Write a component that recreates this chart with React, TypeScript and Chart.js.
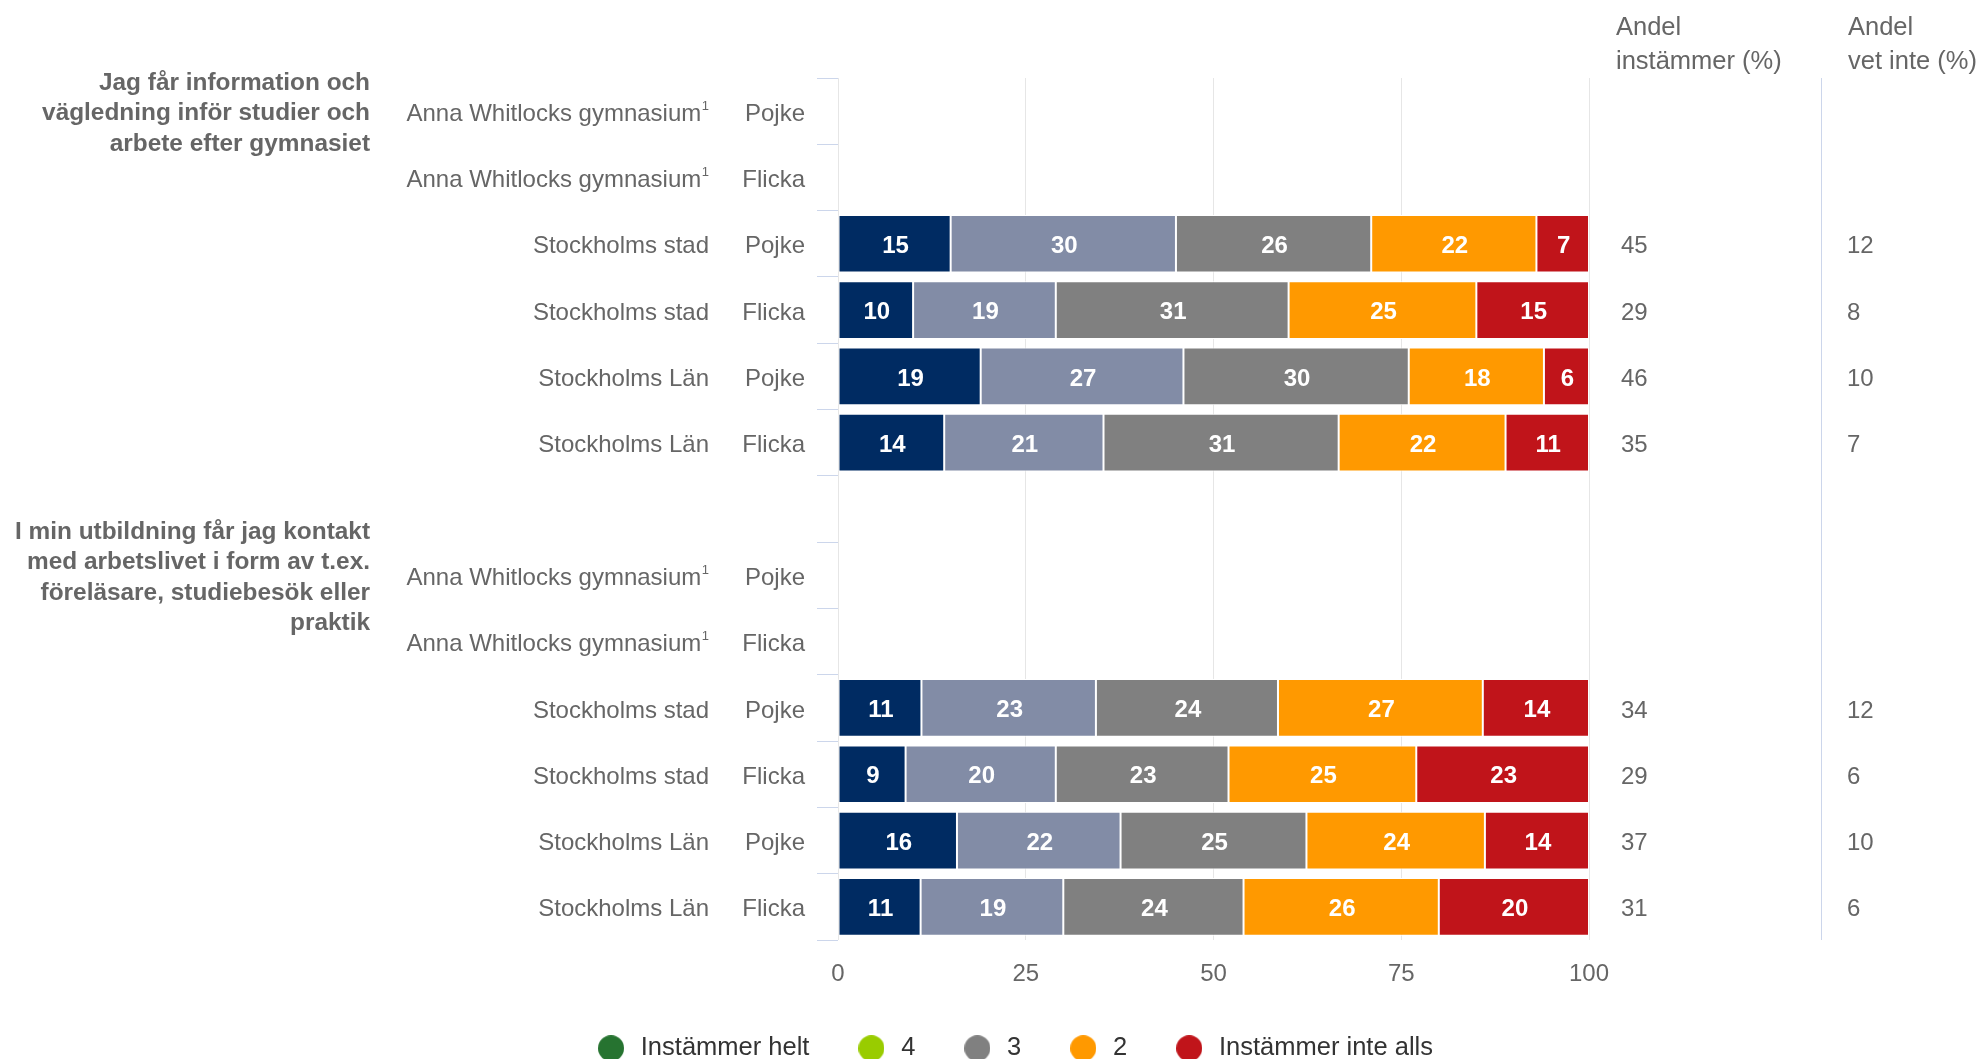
import React, { useEffect, useRef } from 'react';
import { Chart, registerables } from 'chart.js';

Chart.register(...registerables);

// ---- data ----
const places = [
  'Anna Whitlocks gymnasium', 'Anna Whitlocks gymnasium', 'Stockholms stad', 'Stockholms stad', 'Stockholms Län', 'Stockholms Län',
  '',
  'Anna Whitlocks gymnasium', 'Anna Whitlocks gymnasium', 'Stockholms stad', 'Stockholms stad', 'Stockholms Län', 'Stockholms Län',
];
const placeFootnotes = ['1', '1', '', '', '', '', '', '1', '1', '', '', '', ''];
const genders = ['Pojke', 'Flicka', 'Pojke', 'Flicka', 'Pojke', 'Flicka', '', 'Pojke', 'Flicka', 'Pojke', 'Flicka', 'Pojke', 'Flicka'];

const groupQuestion1 = ['Jag får information och', 'vägledning inför studier och', 'arbete efter gymnasiet'];
const groupQuestion2 = ['I min utbildning får jag kontakt', 'med arbetslivet i form av t.ex.', 'föreläsare, studiebesök eller', 'praktik'];
const groupStartRows = [0, 7];

const seriesNames = ['Instämmer helt', '4', '3', '2', 'Instämmer inte alls'];

const instammerHelt = [null, null, 15, 10, 19, 14, null, null, null, 11, 9, 16, 11];
const fyra = [null, null, 30, 19, 27, 21, null, null, null, 23, 20, 22, 19];
const tre = [null, null, 26, 31, 30, 31, null, null, null, 24, 23, 25, 24];
const tva = [null, null, 22, 25, 18, 22, null, null, null, 27, 25, 24, 26];
const inteAlls = [null, null, 7, 15, 6, 11, null, null, null, 14, 23, 14, 20];

const andelInstammer = [null, null, 45, 29, 46, 35, null, null, null, 34, 29, 37, 31];
const andelVetInte = [null, null, 12, 8, 10, 7, null, null, null, 12, 6, 10, 6];

const headerInstammer = ['Andel', 'instämmer (%)'];
const headerVetInte = ['Andel', 'vet inte (%)'];

const xTickValues = [0, 25, 50, 75, 100];

// ---- styles ----
const barColors = ['#002b62', '#828ca6', '#808080', '#ff9900', '#c0141a'];
const legendColors = ['#267330', '#99cc00', '#808080', '#ff9900', '#c0141a'];
const FONT = '"Liberation Sans", Arial, Helvetica, sans-serif';
const TEXT = '#666666';

const seriesValues: (number | null)[][] = [instammerHelt, fyra, tre, tva, inteAlls];

const W = 1981;
const H = 1071;

function circleImage(color: string) {
  const c = document.createElement('canvas');
  c.width = 26;
  c.height = 26;
  const g = c.getContext('2d')!;
  g.fillStyle = color;
  g.beginPath();
  g.arc(13, 13, 13, 0, Math.PI * 2);
  g.fill();
  return c;
}

const overlayPlugin = {
  id: 'overlay',
  afterDatasetsDraw(chart: any) {
    const ctx: CanvasRenderingContext2D = chart.ctx;
    const ys = chart.scales.y;
    const area = chart.chartArea;
    ctx.save();

    // separator line before "vet inte" column
    ctx.strokeStyle = '#ccd6eb';
    ctx.lineWidth = 1;
    ctx.beginPath();
    ctx.moveTo(area.right + 232.5, area.top);
    ctx.lineTo(area.right + 232.5, area.bottom);
    ctx.stroke();

    // data labels inside bars
    ctx.font = `bold 24px ${FONT}`;
    ctx.fillStyle = '#ffffff';
    ctx.textAlign = 'center';
    ctx.textBaseline = 'middle';
    seriesValues.forEach((vals, di) => {
      const meta = chart.getDatasetMeta(di);
      meta.data.forEach((el: any, j: number) => {
        const v = vals[j];
        if (v == null) return;
        const p = el.getProps(['x', 'base', 'y'], true);
        ctx.fillText(String(v), (p.x + p.base) / 2 + 1, p.y + 2.5);
      });
    });

    // category labels (two columns)
    ctx.fillStyle = TEXT;
    ctx.textAlign = 'right';
    places.forEach((pl, i) => {
      const y = ys.getPixelForValue(i) + 3;
      const placeRight = area.left - 129;
      if (pl) {
        const note = placeFootnotes[i];
        let r = placeRight;
        if (note) {
          ctx.font = `13px ${FONT}`;
          ctx.fillText(note, r, y - 8);
          r -= ctx.measureText(note).width + 0.5;
        }
        ctx.font = `24px ${FONT}`;
        ctx.fillText(pl, r, y);
      }
      ctx.font = `24px ${FONT}`;
      if (genders[i]) ctx.fillText(genders[i], area.left - 33, y);
    });

    // group question labels
    ctx.font = `bold 24.4px ${FONT}`;
    [groupQuestion1, groupQuestion2].forEach((lines, gi) => {
      const cy = ys.getPixelForValue(groupStartRows[gi]);
      const lh = 30.5;
      const start = cy - ((lines.length - 1) * lh) / 2;
      lines.forEach((ln, k) => ctx.fillText(ln, area.left - 468, start + k * lh + 2.5));
    });

    // right columns
    ctx.font = `24px ${FONT}`;
    ctx.textAlign = 'left';
    andelInstammer.forEach((v, i) => {
      if (v == null) return;
      ctx.fillText(String(v), area.right + 32, ys.getPixelForValue(i) + 3);
    });
    andelVetInte.forEach((v, i) => {
      if (v == null) return;
      ctx.fillText(String(v), area.right + 258, ys.getPixelForValue(i) + 3);
    });

    // headers
    ctx.font = `25.5px ${FONT}`;
    headerInstammer.forEach((t, k) => ctx.fillText(t, area.right + 27, 27.5 + k * 34.5));
    headerVetInte.forEach((t, k) => ctx.fillText(t, area.right + 259, 27.5 + k * 34.5));

    ctx.restore();
  },
};

export default function App() {
  const ref = useRef<HTMLCanvasElement>(null);

  useEffect(() => {
    if (!ref.current) return;
    const rowSums = genders.map((_, j) =>
      seriesValues.reduce((s, arr) => s + (arr[j] ?? 0), 0)
    );
    const datasets = seriesValues.map((vals, i) => ({
      label: seriesNames[i],
      data: vals.map((v, j) => (v == null ? null : (v / rowSums[j]) * 100)),
      backgroundColor: barColors[i],
      borderColor: '#ffffff',
      borderWidth: 1,
      borderSkipped: false as const,
      categoryPercentage: 0.87,
      barPercentage: 1,
    }));
    const images = legendColors.map(circleImage);

    const chart = new Chart(ref.current, {
      type: 'bar',
      data: { labels: genders, datasets },
      plugins: [overlayPlugin],
      options: {
        indexAxis: 'y',
        animation: false,
        responsive: false,
        devicePixelRatio: 1,
        events: [],
        layout: { padding: { top: 78, left: 46, right: 0, bottom: 0 } },
        scales: {
          x: {
            type: 'linear',
            stacked: true,
            min: 0,
            max: 100,
            afterBuildTicks: (s: any) => {
              s.ticks = xTickValues.map((v) => ({ value: v }));
            },
            afterFit: (s: any) => {
              s.height = 50.5;
            },
            grid: { color: '#e6e6e6', lineWidth: 1, drawTicks: false },
            border: { display: false },
            ticks: { color: TEXT, font: { size: 24, family: FONT }, padding: 20 },
          },
          y: {
            type: 'category',
            stacked: true,
            offset: true,
            afterFit: (s: any) => {
              s.width = 792;
            },
            grid: {
              offset: true,
              drawOnChartArea: false,
              drawTicks: true,
              tickLength: 21,
              color: '#ccd6eb',
              lineWidth: 1,
            },
            border: { display: false },
            ticks: { display: false },
          },
          yR: {
            type: 'linear',
            position: 'right',
            display: true,
            afterFit: (s: any) => {
              s.width = 392;
            },
            grid: { display: false },
            border: { display: false },
            ticks: { display: false },
          },
        },
        plugins: {
          tooltip: { enabled: false },
          title: { display: false },
          legend: {
            display: true,
            position: 'bottom',
            labels: {
              usePointStyle: true,
              pointStyleWidth: 34,
              boxHeight: 18,
              padding: 45,
              color: '#333333',
              font: { size: 25.5, family: FONT },
              generateLabels: () =>
                seriesNames.map((name, i) => ({
                  text: name,
                  fillStyle: legendColors[i],
                  strokeStyle: legendColors[i],
                  lineWidth: 0,
                  pointStyle: images[i] as any,
                  hidden: false,
                  datasetIndex: i,
                  fontColor: '#333333',
                })),
            },
          },
        },
      } as any,
    });
    return () => chart.destroy();
  }, []);

  return (
    <div style={{ position: 'fixed', left: 0, top: 0, width: W, height: H, background: '#ffffff' }}>
      <canvas ref={ref} width={W} height={H} style={{ width: W, height: H, display: 'block' }} />
    </div>
  );
}
